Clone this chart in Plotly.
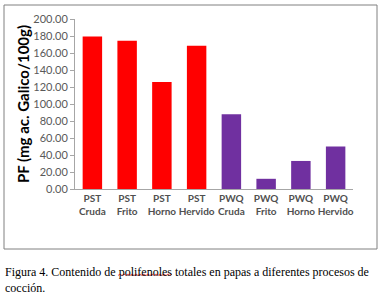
import plotly.graph_objects as go

categories = ["PST<br>Cruda", "PST<br>Frito", "PST<br>Horno", "PST<br>Hervido",
              "PWQ<br>Cruda", "PWQ<br>Frito", "PWQ<br>Horno", "PWQ<br>Hervido"]
values = [179.5, 174.5, 126.0, 168.5, 88.0, 12.0, 33.0, 50.0]
bar_colors = ["#FF0000"] * 4 + ["#7030A0"] * 4
tick_vals = [0, 20, 40, 60, 80, 100, 120, 140, 160, 180, 200]
y_title = "PF (mg ac. Galico/100g)"
caption = ("Figura 4. Contenido de polifenoles totales en papas a diferentes procesos de<br>"
           "cocción.")

W, H = 381, 295
L, R, T, B = 75, 28, 19, 106
pw = W - L - R
ph = H - T - B

def px(x):
    return (x - L) / pw

def py(y):
    return (H - B - y) / ph

# spell-check style squiggle under "polifenoles" (pixel positions of page)
pts = []
x = 118
i = 0
while x <= 172:
    pts.append((x, 275.5 if i % 2 == 0 else 274))
    x += 2
    i += 1

fig = go.Figure(go.Bar(x=categories, y=values, marker=dict(color=bar_colors, line=dict(width=0))))

fig.update_layout(
    width=W, height=H,
    margin=dict(l=L, r=R, t=T, b=B, pad=0, autoexpand=False),
    paper_bgcolor="white", plot_bgcolor="white",
    bargap=0.44,
    showlegend=False,
    font=dict(family="Lato", color="#595959"),
    xaxis=dict(
        showline=True, linecolor="#A6A6A6", linewidth=1,
        ticks="", showgrid=False, automargin=False, tickangle=0,
        tickfont=dict(size=10, color="#505050", family="Lato", weight="bold"),
    ),
    yaxis=dict(
        range=[0, 200], tickvals=tick_vals, tickformat=".2f",
        showline=True, linecolor="#A6A6A6", linewidth=1,
        ticks="outside", ticklen=4, tickcolor="#A6A6A6",
        showgrid=False, zeroline=False, automargin=False,
        tickfont=dict(size=11, color="#595959"),
        title=dict(text=y_title, font=dict(size=15, color="#000000", weight="bold"), standoff=0),
    ),
    shapes=[dict(type="rect", xref="paper", yref="paper",
                 x0=px(4), x1=px(377), y0=py(5), y1=py(249),
                 line=dict(color="#808080", width=1)),
            dict(type="path", xref="paper", yref="paper",
                 path="M " + " L ".join(f"{px(x)} {py(y)}" for x, y in pts),
                 line=dict(color="#E02020", width=0.8))],
    annotations=[dict(text=caption, xref="paper", yref="paper",
                      x=px(3), y=py(263), xanchor="left", yanchor="top",
                      align="left", showarrow=False,
                      font=dict(family="Liberation Serif", size=12, color="#000000"))],
)

fig.write_html("out.html", config={"displayModeBar": False},
               post_script="document.body.style.margin='0';document.body.style.overflow='hidden';")
